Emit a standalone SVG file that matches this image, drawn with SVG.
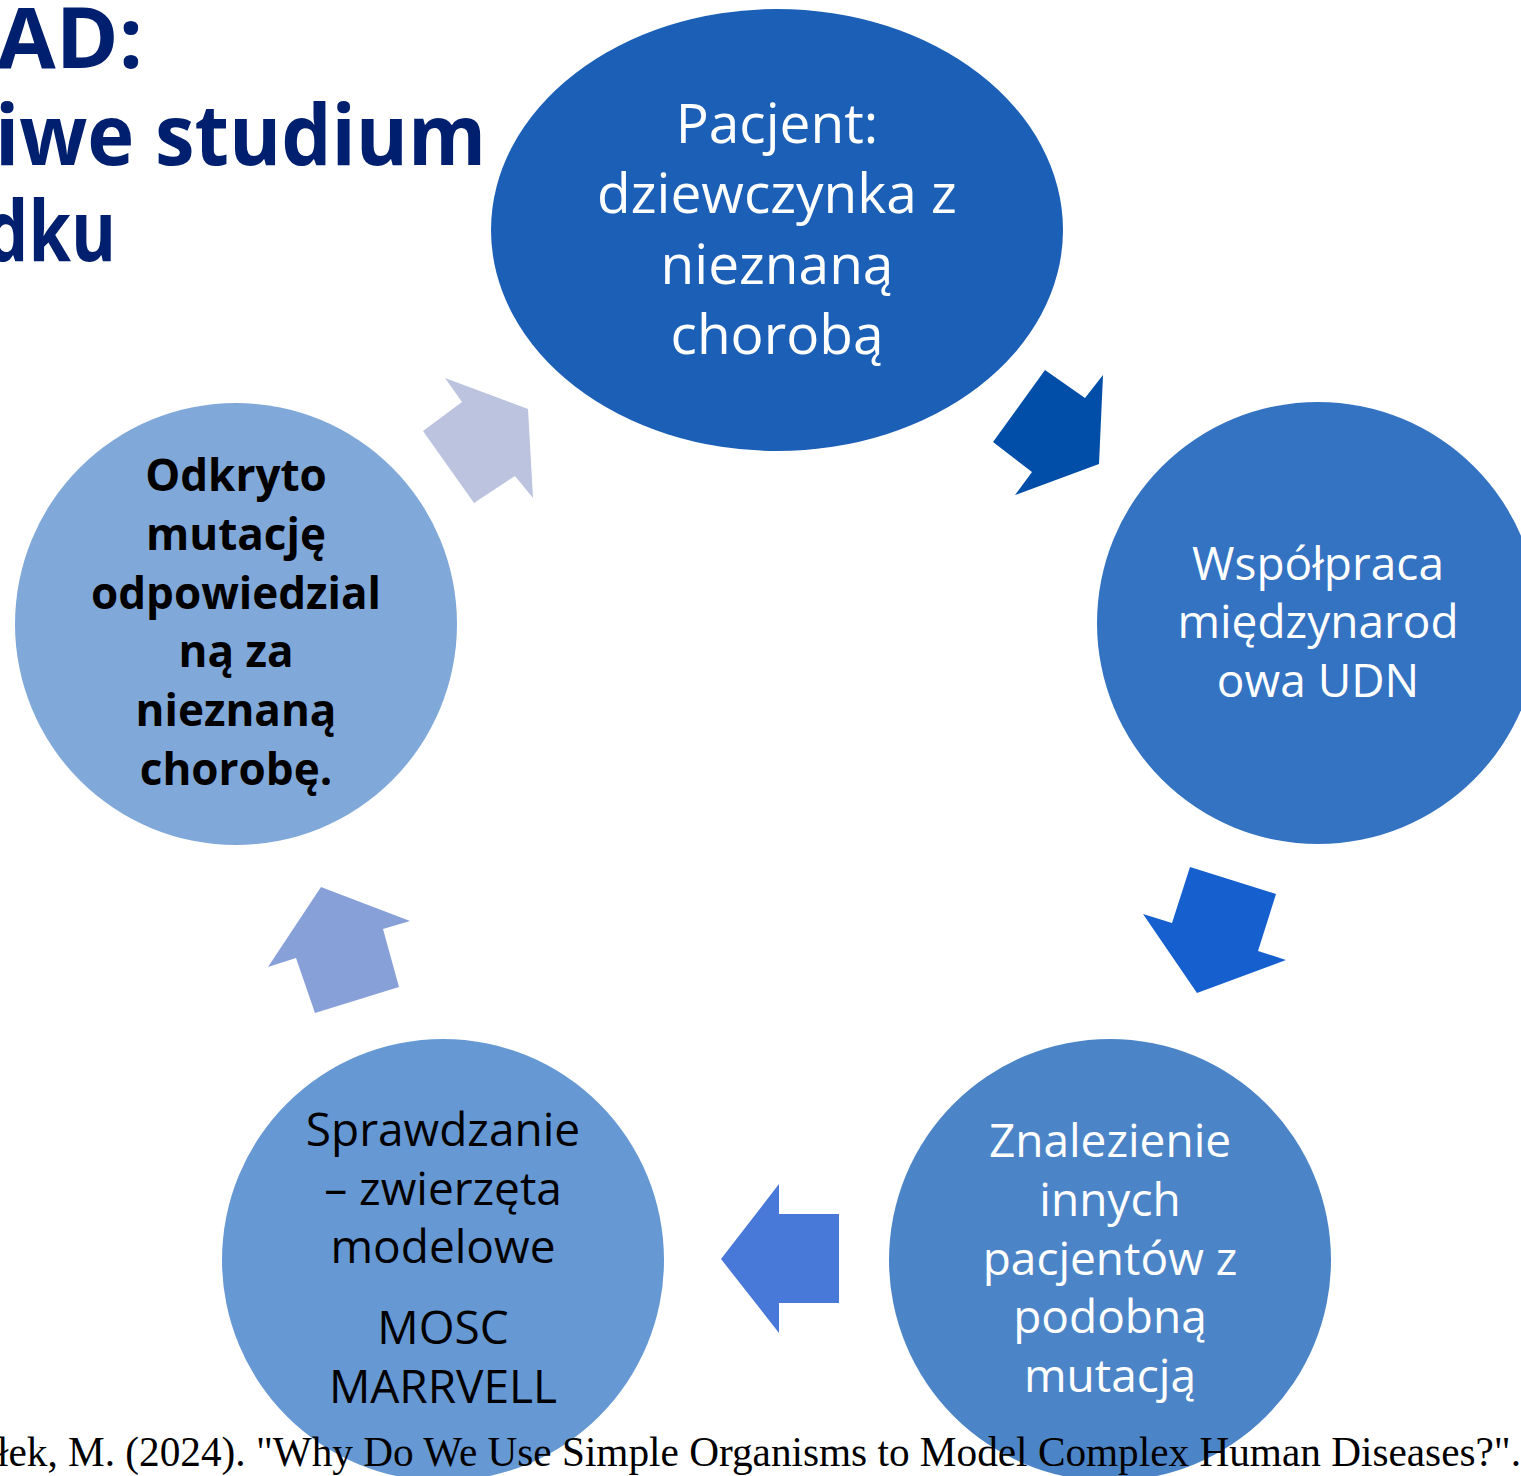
<svg xmlns="http://www.w3.org/2000/svg" width="1521" height="1476" viewBox="0 0 1521 1476">
<style>
.t{font-family:"Open Sans","Noto Sans",sans-serif;text-anchor:middle}
.w{fill:#ffffff}
.k{fill:#000000}
.big{font-size:55px}
.mid{font-size:46px}
.bold{font-weight:bold;font-size:44px}
.title{font-family:"Open Sans","Noto Sans",sans-serif;font-weight:bold;font-size:85px;fill:#00206F}
.ref{font-family:"Liberation Serif","Times New Roman",serif;font-size:42px;fill:#000000}
</style>
<rect width="1521" height="1476" fill="#ffffff"/>
<g id="title">
<text class="title" x="-3" y="68" textLength="146" lengthAdjust="spacingAndGlyphs">AD:</text>
<text class="title" x="-5" y="165" textLength="491" lengthAdjust="spacingAndGlyphs">iwe studium</text>
<text class="title" x="-15" y="261" textLength="131" lengthAdjust="spacingAndGlyphs">dku</text>
</g>
<g id="connectors">
<polygon points="1045,370 1085,398 1103,375 1099,464 1015,495 1032,472 993,442" fill="#004EA8"/>
<polygon points="1190,867 1276,894 1258,951 1286,960 1197,993 1143,914 1172,923" fill="#155FCF"/>
<polygon points="779,1184 779,1214 839,1214 839,1303 779,1303 779,1333 721,1259" fill="#4878D8"/>
<polygon points="321,887 410,921 383,929 399,987 315,1013 296,958 268,967" fill="#87A0D8"/>
<polygon points="445,378 528,409 533,498 515,476 474,503 423,431 462,402" fill="#BCC3DF"/>
</g>
<g id="n1">
<ellipse cx="777" cy="230" rx="286" ry="221" fill="#1B5FB6"/>
<text class="t w big" x="777" y="143">Pacjent:</text>
<text class="t w big" x="777" y="213">dziewczynka z</text>
<text class="t w big" x="777" y="284">nieznaną</text>
<text class="t w big" x="777" y="354">chorobą</text>
</g>
<g id="n2">
<circle cx="1318" cy="623" r="221" fill="#3472C2"/>
<text class="t w mid" x="1318" y="580">Współpraca</text>
<text class="t w mid" x="1318" y="638">międzynarod</text>
<text class="t w mid" x="1318" y="697">owa UDN</text>
</g>
<g id="n3">
<circle cx="1110" cy="1260" r="221" fill="#4C85C7"/>
<text class="t w mid" x="1110" y="1157">Znalezienie</text>
<text class="t w mid" x="1110" y="1216">innych</text>
<text class="t w mid" x="1110" y="1275">pacjentów z</text>
<text class="t w mid" x="1110" y="1333">podobną</text>
<text class="t w mid" x="1110" y="1392">mutacją</text>
</g>
<g id="n4">
<circle cx="443" cy="1260" r="221" fill="#6698D3"/>
<text class="t k mid" x="443" y="1146">Sprawdzanie</text>
<text class="t k mid" x="443" y="1205">– zwierzęta</text>
<text class="t k mid" x="443" y="1263">modelowe</text>
<text class="t k mid" x="443" y="1344">MOSC</text>
<text class="t k mid" x="443" y="1403">MARRVELL</text>
</g>
<g id="n5">
<circle cx="236" cy="624" r="221" fill="#80A8D8"/>
<text class="t k bold" x="236" y="491">Odkryto</text>
<text class="t k bold" x="236" y="550">mutację</text>
<text class="t k bold" x="236" y="609">odpowiedzial</text>
<text class="t k bold" x="236" y="667">ną za</text>
<text class="t k bold" x="236" y="726">nieznaną</text>
<text class="t k bold" x="236" y="785">chorobę.</text>
</g>
<text class="ref" x="-3" y="1466" textLength="1524" lengthAdjust="spacingAndGlyphs">łek, M. (2024). "Why Do We Use Simple Organisms to Model Complex Human Diseases?".</text>
</svg>
